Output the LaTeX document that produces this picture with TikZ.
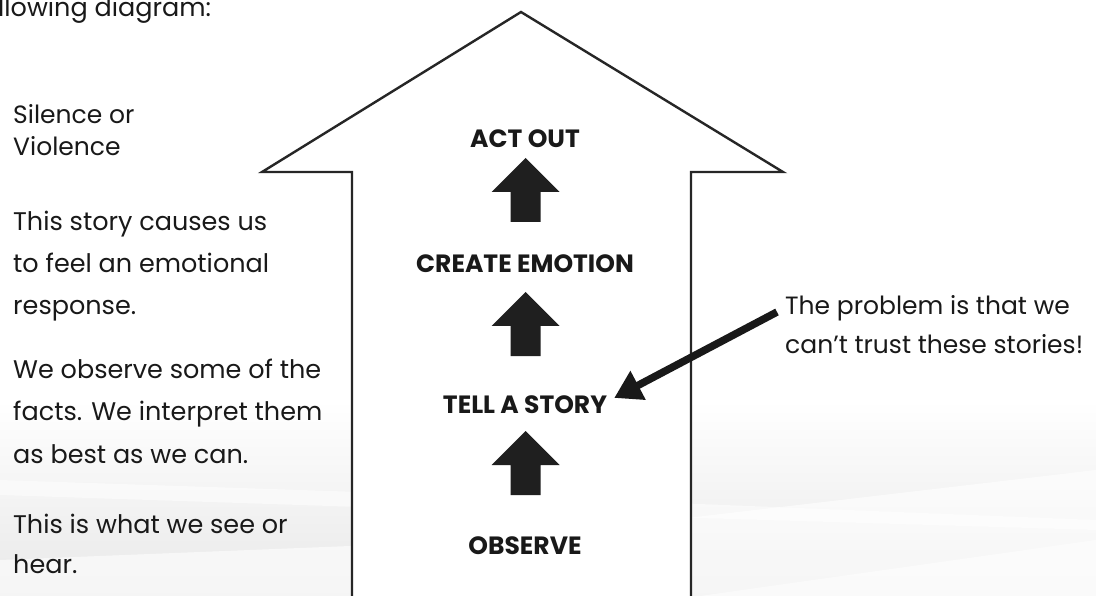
\documentclass[tikz,border=0pt]{standalone}
\usepackage{fontspec}
\setmainfont{Poppins}
\usetikzlibrary{arrows.meta}
\tikzset{
  body/.style={anchor=base west, inner sep=0pt, align=left, text=black!90},
  step label/.style={anchor=base, inner sep=0pt, font=\fontsize{25}{30}\selectfont\bfseries, text=black!90},
  outline/.style={draw=black!85, line width=2.4pt, line join=miter, fill=white},
  bigarrow/.style={fill=black!88, draw=none},
  callout/.style={draw=black!90, line width=7.5pt, -{Triangle[length=27pt,width=31pt]}, shorten >=-2pt}
}
\begin{document}
\begin{tikzpicture}[x=1pt,y=-1pt]
\useasboundingbox (0,0) rectangle (1096,596);
% background
\fill[white] (0,0) rectangle (1096,596);
\shade[top color=white, bottom color=black!9] (0,400) rectangle (1096,596);
\fill[white, opacity=0.6] (0,596) -- (0,560) -- (500,540) -- (1096,470) -- (1096,596) -- cycle;
\fill[white, opacity=0.5] (0,480) -- (600,500) -- (1096,520) -- (1096,530) -- (600,515) -- (0,495) -- cycle;
\fill[white, opacity=0.5] (700,596) -- (1096,540) -- (1096,596) -- cycle;
% big arrow outline
\draw[outline] (352,600) -- (352,172) -- (262,172) -- (521,12) -- (783,172) -- (691,172) -- (691,600);
% step labels
\node[step label] (act) at (525,148) {ACT OUT};
\node[step label] (emo) at (525,273) {CREATE EMOTION};
\node[step label] (story) at (525,413) {TELL A STORY};
\node[step label] (obs) at (525,554) {OBSERVE};
% small solid arrows
\foreach \n/\t in {a1/158, a2/292, a3/431}{
  \fill[bigarrow] (525.5,\t) -- ++(34,34) -- ++(-19,0) -- ++(0,30) -- ++(-30,0) -- ++(0,-30) -- ++(-19,0) -- cycle;
}
% left texts (base anchor = baseline of last line)
\node[body] (top) at (-2,17) {\fontsize{25.5}{30}\selectfont llowing diagram:};
\node[body, font=\fontsize{25}{32}\selectfont] (t1) at (13,156) {Silence or\\Violence};
\node[body, font=\fontsize{25.5}{42.5}\selectfont] (t2) at (13,315) {This story causes us\\to feel an emotional\\response.};
\node[body, font=\fontsize{25.5}{42.5}\selectfont] (t3) at (13,463) {We observe some of the\\facts. We interpret them\\as best as we can.};
\node[body, font=\fontsize{25.5}{40}\selectfont] (t4) at (13,573) {This is what we see or\\hear.};
% right note
\node[body, font=\fontsize{25}{39}\selectfont] (note) at (785,353) {The problem is that we\\can’t trust these stories!};
\coordinate (cs) at (777,312);
\coordinate (ce) at (616,397);
\draw[callout] (cs) -- (ce);
\end{tikzpicture}
\end{document}
